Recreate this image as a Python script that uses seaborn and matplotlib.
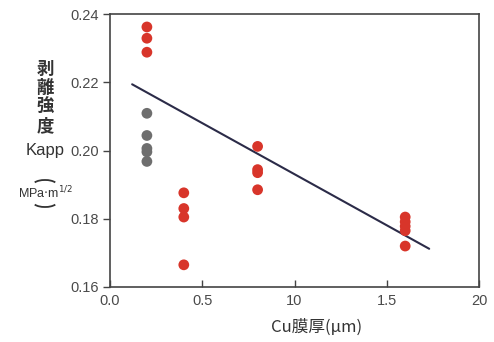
import pandas as pd
import matplotlib
matplotlib.use("Agg")
import matplotlib.pyplot as plt
from matplotlib.patches import Arc
import seaborn as sns

# Cu膜厚 (μm) と 剥離強度 Kapp の測定点
thickness_red = [0.2, 0.2, 0.2,
                 0.4, 0.4, 0.4, 0.4,
                 0.8, 0.8, 0.8, 0.8,
                 1.6, 1.6, 1.6, 1.6, 1.6]
kapp_red = [0.2362, 0.2329, 0.2288,
            0.1876, 0.1830, 0.1805, 0.1665,
            0.2012, 0.1944, 0.1935, 0.1885,
            0.1805, 0.1791, 0.1778, 0.1765, 0.1720]
thickness_gray = [0.2, 0.2, 0.2, 0.2, 0.2]
kapp_gray = [0.2109, 0.2044, 0.2006, 0.1996, 0.1968]

# 回帰直線 (端点)
fit_x = [0.12, 1.73]
fit_y = [0.2194, 0.1712]

x_ticks = [0.0, 0.5, 1.0, 1.5, 2.0]
x_ticklabels = ["0.0", "0.5", "10", "1.5", "20"]
y_ticks = [0.16, 0.18, 0.20, 0.22, 0.24]
y_ticklabels = ["0.16", "0.18", "0.20", "0.22", "0.24"]

df = pd.DataFrame({
    "thickness": thickness_red + thickness_gray,
    "kapp": kapp_red + kapp_gray,
    "group": ["red"] * len(kapp_red) + ["gray"] * len(kapp_gray),
})

sns.set_theme(style="white")
plt.rcParams['font.family'] = ['Liberation Sans', 'Noto Sans CJK JP', 'DejaVu Sans']
cjk = ['Noto Sans CJK JP', 'DejaVu Sans']
text_col = "#4a4a4a"

W, H = 494, 342
fig = plt.figure(figsize=(W / 100, H / 100), dpi=100)
ax = fig.add_axes([110 / W, 1 - 287 / H, 369 / W, 273 / H])

sns.scatterplot(data=df, x="thickness", y="kapp", hue="group",
                palette={"red": "#d8352a", "gray": "#6e6e6e"},
                s=60, edgecolor="none", legend=False, ax=ax, zorder=3)
sns.lineplot(x=fit_x, y=fit_y, color="#2b2b48", linewidth=1.5, ax=ax, zorder=2)

ax.set_xlim(0.0, 2.0)
ax.set_ylim(0.16, 0.24)
ax.set_xticks(x_ticks)
ax.set_xticklabels(x_ticklabels)
ax.set_yticks(y_ticks)
ax.set_yticklabels(y_ticklabels)
ax.tick_params(axis="x", bottom=True, direction="in", length=5, width=1,
               colors="#444444", labelsize=10.5, labelcolor=text_col, pad=5)
ax.tick_params(axis="y", left=True, direction="out", length=5, width=1,
               colors="#444444", labelsize=10.5, labelcolor=text_col, pad=3)
for sp in ax.spines.values():
    sp.set_color("#444444")
    sp.set_linewidth(1.2)
ax.set_xlabel("")
ax.set_ylabel("")

# x軸ラベル
fig.text(317 / W, 1 - 327 / H, "Cu膜厚(μm)", ha="center", va="center",
         fontsize=12, color="#333333", family=cjk)

# y軸ラベル (縦書き)
for ch, yp in zip("剥離強度", [69, 88, 107, 126]):
    fig.text(45 / W, 1 - yp / H, ch, ha="center", va="center",
             fontsize=12.5, color="#333333", family=cjk, fontweight="bold")
fig.text(45 / W, 1 - 150 / H, "Kapp", ha="center", va="center",
         fontsize=12, color="#333333")
fig.text(45 / W, 1 - 193 / H, r"MPa$\cdot$m$^{1/2}$", ha="center", va="center",
         fontsize=9, color="#333333")
# 単位を囲む縦書きの括弧
fig.add_artist(Arc((45 / W, 1 - 185 / H), 24 / W, 10 / H, theta1=20, theta2=160,
                   transform=fig.transFigure, color="#333333", linewidth=1.3))
fig.add_artist(Arc((45 / W, 1 - 202 / H), 24 / W, 10 / H, theta1=200, theta2=340,
                   transform=fig.transFigure, color="#333333", linewidth=1.3))

fig.savefig("out.png", dpi=100)
